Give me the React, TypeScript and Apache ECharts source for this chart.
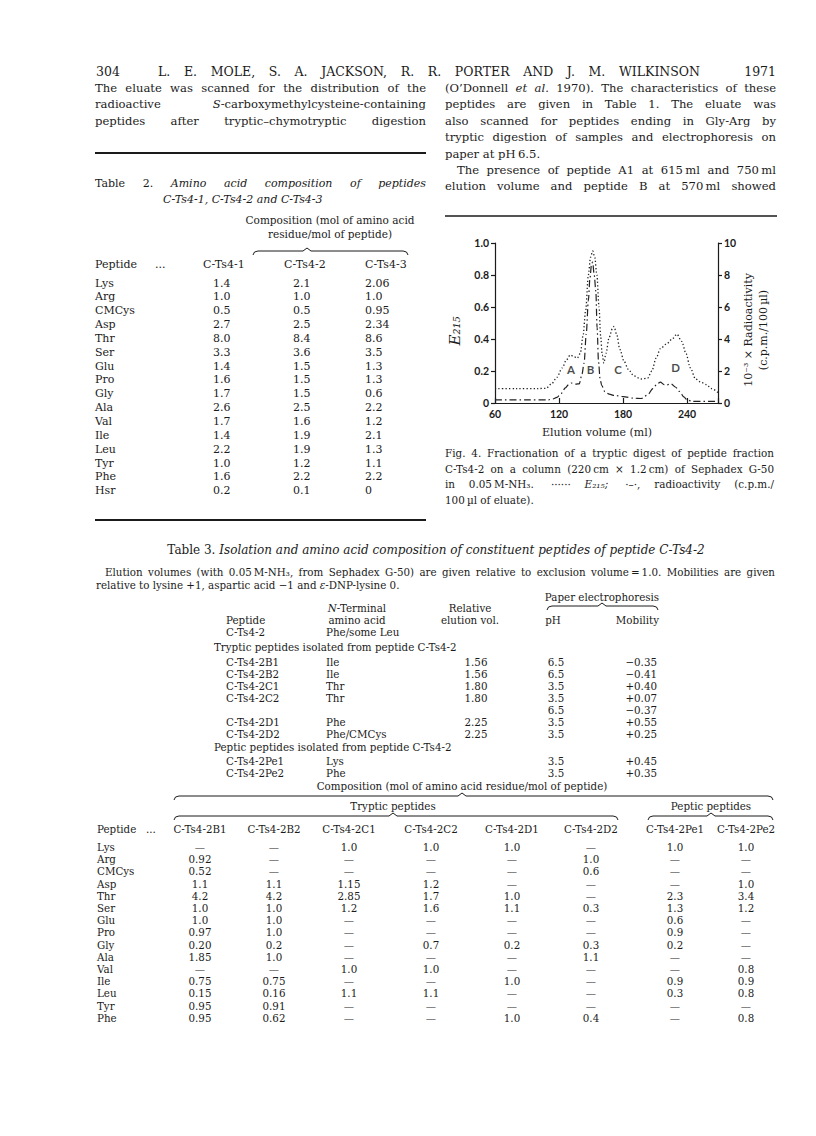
import React, { useEffect, useRef } from 'react';
import * as echarts from 'echarts';

// ---------------- Fig. 4 data ----------------
const e215Volume = [60, 80, 100, 108, 113, 118, 123, 127, 130.5, 134, 137, 140, 142.5, 145, 147.5, 149.5, 151.5, 153.5, 155.5, 157.5, 159, 160.5, 162, 164, 167, 170, 171.5, 174, 177, 181, 185, 190, 197, 203, 207, 211, 215, 221, 226, 230.5, 235, 239, 243, 248, 253, 258, 263, 269];
const e215Value = [0.09, 0.09, 0.09, 0.092, 0.12, 0.16, 0.22, 0.27, 0.3, 0.29, 0.28, 0.31, 0.42, 0.58, 0.8, 0.91, 0.95, 0.91, 0.8, 0.6, 0.42, 0.3, 0.25, 0.31, 0.41, 0.465, 0.478, 0.43, 0.335, 0.26, 0.21, 0.17, 0.15, 0.155, 0.2, 0.28, 0.34, 0.37, 0.4, 0.43, 0.385, 0.31, 0.22, 0.15, 0.13, 0.115, 0.09, 0.065];
const radioVolume = [60, 90, 110, 114, 118, 122, 126, 129, 132, 136, 139, 141.5, 143.5, 145.5, 147.5, 149, 150.5, 151.5, 153, 154.5, 155.7, 157, 158.5, 160, 163, 167, 172, 180, 190, 197, 203, 208, 212, 215, 218.5, 221, 225, 229, 233, 237, 240, 245, 269];
const radioValue = [0.2, 0.2, 0.2, 0.25, 0.35, 0.6, 0.95, 1.15, 1.25, 1.18, 1.2, 1.8, 2.5, 4.3, 6.4, 7.8, 8.7, 8.8, 8.0, 7.0, 4.7, 2.6, 1.5, 1.1, 0.7, 0.55, 0.47, 0.4, 0.3, 0.28, 0.5, 0.9, 1.2, 1.3, 1.15, 1.13, 1.2, 1.0, 0.72, 0.38, 0.2, 0.1, 0.1];
const peakNames = ['A', 'B', 'C', 'D'];
const peakVolume = [131.3, 149.6, 175.4, 229.2];
const peakLevel = [0.21, 0.21, 0.21, 0.225];

// ---------------- page text ----------------
const pageNumber = '304';
const pageAuthors = 'L. E. MOLE, S. A. JACKSON, R. R. PORTER AND J. M. WILKINSON';
const pageYear = '1971';
const leftLines = [
  'The eluate was scanned for the distribution of the',
  'radioactive _S_-carboxymethylcysteine-containing',
  'peptides after tryptic–chymotryptic digestion',
];
const rightLines = [
  '(O’Donnell _et_ _al._ 1970). The characteristics of these',
  'peptides are given in Table 1. The eluate was',
  'also scanned for peptides ending in Gly-Arg by',
  'tryptic digestion of samples and electrophoresis on',
  'paper at pH\u20096.5.',
  'The presence of peptide A1 at 615\u2009ml and 750\u2009ml',
  'elution volume and peptide B at 570\u2009ml showed',
];
const captionLines = [
  'Fig. 4. Fractionation of a tryptic digest of peptide fraction',
  'C-Ts4-2 on a column (220\u2009cm × 1.2\u2009cm) of Sephadex G-50',
  'in 0.05\u2009M-NH₃. \u00a0······ _E₂₁₅;_ \u00a0·–·, radioactivity (c.p.m./',
  '100\u2009µl of eluate).',
];

// Table 2
const t2Amino = ['Lys', 'Arg', 'CMCys', 'Asp', 'Thr', 'Ser', 'Glu', 'Pro', 'Gly', 'Ala', 'Val', 'Ile', 'Leu', 'Tyr', 'Phe', 'Hsr'];
const t2Ts41 = ['1.4', '1.0', '0.5', '2.7', '8.0', '3.3', '1.4', '1.6', '1.7', '2.6', '1.7', '1.4', '2.2', '1.0', '1.6', '0.2'];
const t2Ts42 = ['2.1', '1.0', '0.5', '2.5', '8.4', '3.6', '1.5', '1.5', '1.5', '2.5', '1.6', '1.9', '1.9', '1.2', '2.2', '0.1'];
const t2Ts43 = ['2.06', '1.0', '0.95', '2.34', '8.6', '3.5', '1.3', '1.3', '0.6', '2.2', '1.2', '2.1', '1.3', '1.1', '2.2', '0'];
const t2Heads = ['C-Ts4-1', 'C-Ts4-2', 'C-Ts4-3'];

// Table 3, upper part
const t3TrypPeptide = ['C-Ts4-2B1', 'C-Ts4-2B2', 'C-Ts4-2C1', 'C-Ts4-2C2', '', 'C-Ts4-2D1', 'C-Ts4-2D2'];
const t3TrypNTerm = ['Ile', 'Ile', 'Thr', 'Thr', '', 'Phe', 'Phe/CMCys'];
const t3TrypElution = ['1.56', '1.56', '1.80', '1.80', '', '2.25', '2.25'];
const t3TrypPH = ['6.5', '6.5', '3.5', '3.5', '6.5', '3.5', '3.5'];
const t3TrypMobility = ['−0.35', '−0.41', '+0.40', '+0.07', '−0.37', '+0.55', '+0.25'];
const t3PepPeptide = ['C-Ts4-2Pe1', 'C-Ts4-2Pe2'];
const t3PepNTerm = ['Lys', 'Phe'];
const t3PepPH = ['3.5', '3.5'];
const t3PepMobility = ['+0.45', '+0.35'];

// Table 3, lower part
const t3Amino = ['Lys', 'Arg', 'CMCys', 'Asp', 'Thr', 'Ser', 'Glu', 'Pro', 'Gly', 'Ala', 'Val', 'Ile', 'Leu', 'Tyr', 'Phe'];
const t3Heads = ['C-Ts4-2B1', 'C-Ts4-2B2', 'C-Ts4-2C1', 'C-Ts4-2C2', 'C-Ts4-2D1', 'C-Ts4-2D2', 'C-Ts4-2Pe1', 'C-Ts4-2Pe2'];
const D = '—';
const t3B1 = [D, '0.92', '0.52', '1.1', '4.2', '1.0', '1.0', '0.97', '0.20', '1.85', D, '0.75', '0.15', '0.95', '0.95'];
const t3B2 = [D, D, D, '1.1', '4.2', '1.0', '1.0', '1.0', '0.2', '1.0', D, '0.75', '0.16', '0.91', '0.62'];
const t3C1 = ['1.0', D, D, '1.15', '2.85', '1.2', D, D, D, D, '1.0', D, '1.1', D, D];
const t3C2 = ['1.0', D, D, '1.2', '1.7', '1.6', D, D, '0.7', D, '1.0', D, '1.1', D, D];
const t3D1 = ['1.0', D, D, D, '1.0', '1.1', D, D, '0.2', D, D, '1.0', D, D, '1.0'];
const t3D2 = [D, '1.0', '0.6', D, D, '0.3', D, D, '0.3', '1.1', D, D, D, D, '0.4'];
const t3Pe1 = ['1.0', D, D, D, '2.3', '1.3', '0.6', '0.9', '0.2', D, D, '0.9', '0.3', D, D];
const t3Pe2 = ['1.0', D, D, '1.0', '3.4', '1.2', D, D, D, D, '0.8', '0.9', '0.8', D, '0.8'];

// ---------------- helpers ----------------
const SERIF = 'DejaVu Serif';
const SANS = 'Lato';
const INK = '#1b1b1b';

type Font = { size: number; family: string; bold?: boolean };

let mctx: CanvasRenderingContext2D | null = null;
function measure(text: string, f: Font, italic = false): number {
  if (!mctx) mctx = document.createElement('canvas').getContext('2d');
  mctx!.font = `${italic ? 'italic ' : ''}${f.bold ? 'bold ' : ''}${f.size}px "${f.family}"`;
  return mctx!.measureText(text).width;
}

function textEl(text: string, x: number, y: number, f: Font, opts: any = {}) {
  return {
    type: 'text',
    x,
    y,
    rotation: opts.rotation || 0,
    silent: true,
    style: {
      text,
      fill: INK,
      fontFamily: f.family,
      fontSize: f.size,
      fontStyle: opts.italic ? 'italic' : 'normal',
      fontWeight: f.bold ? 'bold' : 'normal',
      textAlign: opts.align || 'left',
      textVerticalAlign: 'middle',
    },
  };
}

function pieces(word: string) {
  const out: { t: string; it: boolean }[] = [];
  const re = /_([^_]+)_/g;
  let last = 0;
  let m: RegExpExecArray | null;
  while ((m = re.exec(word))) {
    if (m.index > last) out.push({ t: word.slice(last, m.index), it: false });
    out.push({ t: m[1], it: true });
    last = m.index + m[0].length;
  }
  if (last < word.length) out.push({ t: word.slice(last), it: false });
  return out;
}

function wordWidth(word: string, f: Font) {
  return pieces(word).reduce((s, p) => s + measure(p.t, f, p.it), 0);
}

function lineEls(els: any[], line: string, x0: number, x1: number, y: number, f: Font, mode: string) {
  const words = line.split(' ').filter((w) => w.length);
  const widths = words.map((w) => wordWidth(w, f));
  const total = widths.reduce((a, b) => a + b, 0);
  const space = measure(' ', f);
  let gap = space;
  let start = x0;
  if (mode === 'justify' && words.length > 1) {
    gap = (x1 - x0 - total) / (words.length - 1);
  } else {
    const w = total + space * (words.length - 1);
    if (mode === 'center') start = (x0 + x1) / 2 - w / 2;
    else if (mode === 'right') start = x1 - w;
  }
  let cx = start;
  words.forEach((w, i) => {
    let px = cx;
    for (const p of pieces(w)) {
      els.push(textEl(p.t, px, y, f, { italic: p.it }));
      px += measure(p.t, f, p.it);
    }
    cx += widths[i] + gap;
  });
}

function rule(els: any[], x1: number, x2: number, y: number, w: number) {
  els.push({ type: 'line', silent: true, shape: { x1, y1: y, x2, y2: y }, style: { stroke: INK, lineWidth: w } });
}

function brace(els: any[], x1: number, x2: number, tip: number, y: number) {
  els.push({
    type: 'polyline',
    silent: true,
    shape: {
      points: [
        [x1, y + 4], [x1 + 1.5, y + 1], [x1 + 5, y], [tip - 4, y], [tip, y - 3],
        [tip + 4, y], [x2 - 5, y], [x2 - 1.5, y + 1], [x2, y + 4],
      ],
    },
    style: { stroke: INK, lineWidth: 1, fill: 'none' },
  });
}

function buildPage() {
  const els: any[] = [];
  const body: Font = { size: 11.6, family: SERIF };
  // running head
  const head: Font = { size: 12.5, family: SERIF };
  els.push(textEl(pageNumber, 96, 71, head));
  lineEls(els, pageAuthors, 158, 700, 71, head, 'justify');
  els.push(textEl(pageYear, 776, 71, head, { align: 'right' }));

  // columns of running text
  leftLines.forEach((l, i) => lineEls(els, l, 95, 426, 88 + i * 16.4, body, 'justify'));
  rightLines.forEach((l, i) => {
    const y = 88 + i * 16.4;
    if (i === 4) lineEls(els, l, 445, 776, y, body, 'left');
    else if (i === 5) lineEls(els, l, 457, 776, y, body, 'justify');
    else lineEls(els, l, 445, 776, y, body, 'justify');
  });

  // Table 2
  rule(els, 95, 426, 153, 1.8);
  const t2title: Font = { size: 11, family: SERIF };
  lineEls(els, 'Table 2. _Amino_ _acid_ _composition_ _of_ _peptides_', 95, 426, 183, t2title, 'justify');
  lineEls(els, '_C-Ts4-1,_ _C-Ts4-2_ _and_ _C-Ts4-3_', 163, 163, 199, t2title, 'left');
  const t2small: Font = { size: 10.5, family: SERIF };
  lineEls(els, 'Composition (mol of amino acid', 330, 330, 220, t2small, 'center');
  lineEls(els, 'residue/mol of peptide)', 330, 330, 234, t2small, 'center');
  brace(els, 253, 408, 307, 251);
  const t2f: Font = { size: 11, family: SERIF };
  els.push(textEl('Peptide', 95, 264, t2f));
  els.push(textEl('...', 155, 264, t2f));
  const t2x = [203, 284, 365];
  t2Heads.forEach((h, i) => els.push(textEl(h, t2x[i], 264, t2f)));
  const t2v = [213, 293, 365];
  const t2cols = [t2Ts41, t2Ts42, t2Ts43];
  t2Amino.forEach((a, r) => {
    const y = 283 + r * 13.85;
    els.push(textEl(a, 95, y, t2f));
    t2cols.forEach((col, c) => els.push(textEl(col[r], t2v[c], y, t2f)));
  });
  rule(els, 95, 426, 520, 1.8);

  // Fig. 4 frame
  rule(els, 445, 777, 216, 1.6);
  const axisNameF: Font = { size: 11, family: SERIF };
  els.push(textEl('Elution volume (ml)', 597, 432, axisNameF, { align: 'center' }));
  els.push(textEl('E₂₁₅', 455, 331, { size: 15, family: SERIF }, { align: 'center', italic: true, rotation: Math.PI / 2 }));
  els.push(textEl('10⁻³ × Radioactivity', 748, 330, { size: 11, family: SERIF }, { align: 'center', rotation: Math.PI / 2 }));
  els.push(textEl('(c.p.m./100\u2009µl)', 763, 330, { size: 11, family: SERIF }, { align: 'center', rotation: Math.PI / 2 }));
  const capF: Font = { size: 10.4, family: SERIF };
  captionLines.forEach((l, i) => lineEls(els, l, 445, 774, 453 + i * 15.6, capF, i === 3 ? 'left' : 'justify'));

  // Table 3 title and notes
  const t3title: Font = { size: 12, family: SERIF };
  lineEls(els, 'Table 3. _Isolation_ _and_ _amino_ _acid_ _composition_ _of_ _constituent_ _peptides_ _of_ _peptide_ _C-Ts4-2_', 436, 436, 550, t3title, 'center');
  const tf: Font = { size: 10.3, family: SERIF };
  lineEls(els, 'Elution volumes (with 0.05\u2009M-NH₃, from Sephadex G-50) are given relative to exclusion volume\u2009=\u20091.0. Mobilities are given', 105, 775, 572, tf, 'justify');
  lineEls(els, 'relative to lysine +1, aspartic acid −1 and _ε_-DNP-lysine 0.', 96, 96, 585, tf, 'left');

  // upper table
  const xSec = 214;
  const xPep = 226;
  const xNT = 326;
  const xNTc = 357;
  const xRel = 476;
  const xPH = 556;
  const xMob = 657;
  els.push(textEl('Paper electrophoresis', 602, 597, tf, { align: 'center' }));
  brace(els, 547, 658, 602, 606);
  lineEls(els, '_N_-Terminal', xNTc, xNTc, 608, tf, 'center');
  els.push(textEl('Relative', xRel - 6, 608, tf, { align: 'center' }));
  els.push(textEl('Peptide', xPep, 620, tf));
  els.push(textEl('amino acid', xNTc, 620, tf, { align: 'center' }));
  els.push(textEl('elution vol.', xRel - 6, 620, tf, { align: 'center' }));
  els.push(textEl('pH', xPH - 3, 620, tf, { align: 'center' }));
  els.push(textEl('Mobility', xMob + 2, 620, tf, { align: 'right' }));
  els.push(textEl('C-Ts4-2', xPep, 632, tf));
  els.push(textEl('Phe/some Leu', xNT, 632, tf));
  els.push(textEl('Tryptic peptides isolated from peptide C-Ts4-2', xSec, 647, tf));
  t3TrypPeptide.forEach((p, i) => {
    const y = 662 + i * 12;
    if (p) els.push(textEl(p, xPep, y, tf));
    if (t3TrypNTerm[i]) els.push(textEl(t3TrypNTerm[i], xNT, y, tf));
    if (t3TrypElution[i]) els.push(textEl(t3TrypElution[i], xRel, y, tf, { align: 'center' }));
    els.push(textEl(t3TrypPH[i], xPH, y, tf, { align: 'center' }));
    els.push(textEl(t3TrypMobility[i], xMob, y, tf, { align: 'right' }));
  });
  els.push(textEl('Peptic peptides isolated from peptide C-Ts4-2', xSec, 747, tf));
  t3PepPeptide.forEach((p, i) => {
    const y = 761 + i * 12;
    els.push(textEl(p, xPep, y, tf));
    els.push(textEl(t3PepNTerm[i], xNT, y, tf));
    els.push(textEl(t3PepPH[i], xPH, y, tf, { align: 'center' }));
    els.push(textEl(t3PepMobility[i], xMob, y, tf, { align: 'right' }));
  });

  // lower table
  const colX = [200, 274, 349, 431, 512, 591, 675, 746];
  els.push(textEl('Composition (mol of amino acid residue/mol of peptide)', 462, 786, tf, { align: 'center' }));
  brace(els, 174, 773, 462, 796);
  els.push(textEl('Tryptic peptides', 393, 806, tf, { align: 'center' }));
  els.push(textEl('Peptic peptides', 711, 806, tf, { align: 'center' }));
  brace(els, 174, 618, 393, 816);
  brace(els, 648, 773, 711, 816);
  els.push(textEl('Peptide', 97, 829, tf));
  els.push(textEl('...', 146, 829, tf));
  t3Heads.forEach((h, i) => els.push(textEl(h, colX[i], 829, tf, { align: 'center' })));
  const t3cols = [t3B1, t3B2, t3C1, t3C2, t3D1, t3D2, t3Pe1, t3Pe2];
  t3Amino.forEach((a, r) => {
    const y = 847 + r * 12.2;
    els.push(textEl(a, 97, y, tf));
    t3cols.forEach((col, c) => els.push(textEl(col[r], colX[c], y, tf, { align: 'center' })));
  });
  return els;
}

export default function App() {
  const ref = useRef<HTMLDivElement>(null);
  useEffect(() => {
    if (!ref.current) return;
    const chart = echarts.init(ref.current, undefined, { renderer: 'svg' });
    const tickFont = { fontFamily: SANS, fontWeight: 'bold' as const, fontSize: 10.5, color: INK };
    const axisLine = { show: true, lineStyle: { color: INK, width: 1.2 } };
    chart.setOption({
      animation: false,
      backgroundColor: '#ffffff',
      grid: { left: 495, top: 243, width: 223, height: 160, containLabel: false },
      xAxis: {
        type: 'value',
        min: 60,
        max: 269,
        interval: 60,
        axisLine,
        axisTick: { show: true, inside: true, length: 5, lineStyle: { color: INK, width: 1.2 } },
        axisLabel: { ...tickFont, margin: 5, formatter: (v: number) => (v % 60 === 0 ? String(v) : '') },
        splitLine: { show: false },
      },
      yAxis: [
        {
          type: 'value',
          min: 0,
          max: 1,
          interval: 0.2,
          position: 'left',
          axisLine,
          axisTick: { show: true, length: 4, lineStyle: { color: INK, width: 1.2 } },
          axisLabel: { ...tickFont, margin: 6, formatter: (v: number) => (v === 0 ? '0' : v.toFixed(1)) },
          splitLine: { show: false },
        },
        {
          type: 'value',
          min: 0,
          max: 10,
          interval: 2,
          position: 'right',
          axisLine,
          axisTick: { show: true, length: 4, lineStyle: { color: INK, width: 1.2 } },
          axisLabel: { ...tickFont, margin: 6 },
          splitLine: { show: false },
        },
      ],
      series: [
        {
          name: 'E215',
          type: 'line',
          yAxisIndex: 0,
          data: e215Volume.map((v, i) => [v, e215Value[i]]),
          symbol: 'none',
          smooth: 0.3,
          smoothMonotone: 'x',
          lineStyle: { color: '#222', width: 1.3, type: [1.3, 2.2] },
        },
        {
          name: 'Radioactivity',
          type: 'line',
          yAxisIndex: 1,
          data: radioVolume.map((v, i) => [v, radioValue[i]]),
          symbol: 'none',
          smooth: 0.3,
          smoothMonotone: 'x',
          lineStyle: { color: '#222', width: 1.2, type: [7, 3, 1.5, 3] },
        },
        {
          name: 'peaks',
          type: 'scatter',
          yAxisIndex: 0,
          symbolSize: 1,
          itemStyle: { color: 'rgba(0,0,0,0)' },
          data: peakNames.map((n, i) => ({ name: n, value: [peakVolume[i], peakLevel[i]] })),
          label: { show: true, position: 'inside', formatter: '{b}', fontFamily: SANS, fontWeight: 'bold', fontSize: 11.5, color: INK },
        },
      ],
      graphic: { elements: buildPage() },
    });
    return () => chart.dispose();
  }, []);
  return <div ref={ref} style={{ position: 'absolute', left: 0, top: 0, width: 816, height: 1136, background: '#fff' }} />;
}
